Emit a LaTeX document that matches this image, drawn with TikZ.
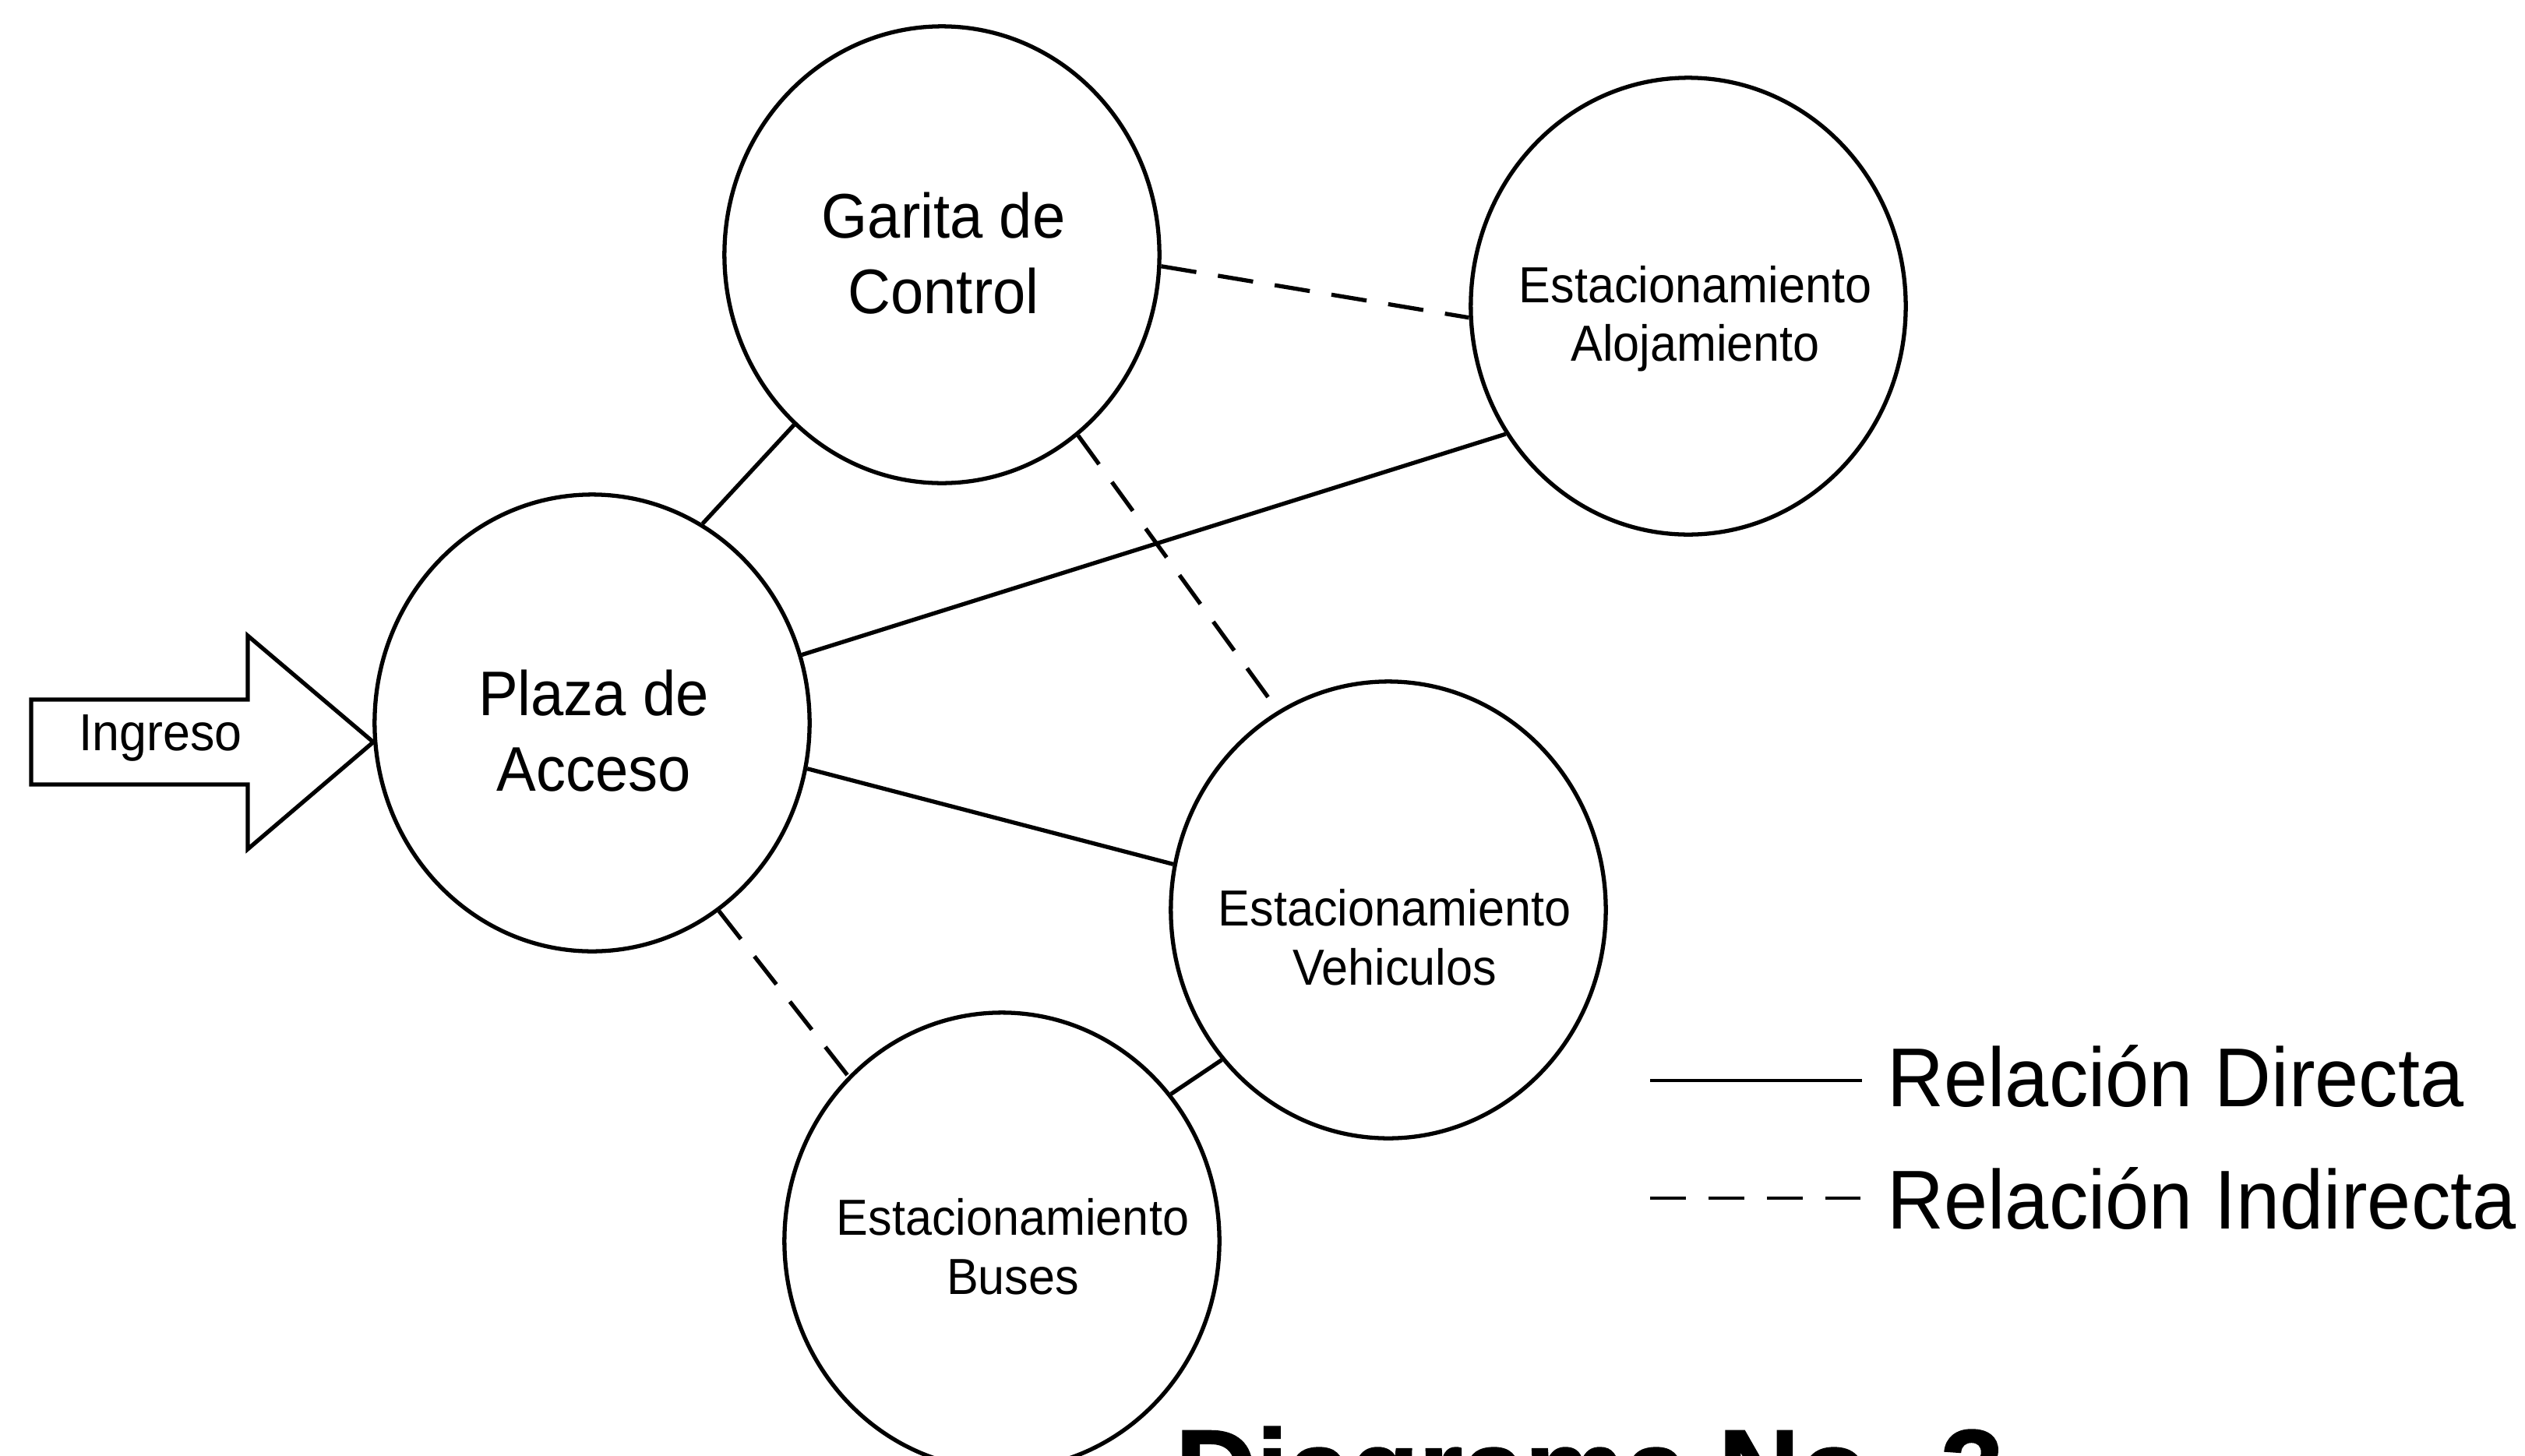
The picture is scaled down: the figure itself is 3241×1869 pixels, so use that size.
\documentclass[tikz,border=0pt]{standalone}
\usepackage{fontspec}
\setmainfont{Liberation Sans}[FakeStretch=0.94]
\newfontfamily\titlefont{Liberation Sans Bold}[FakeBold=1.5]
\usetikzlibrary{shapes.geometric}
\tikzset{
  circ/.style={ellipse, draw, line width=1.5pt, inner sep=0pt,
    minimum width=5.58cm, minimum height=5.86cm},
  bigtxt/.style={align=center, inner sep=0pt, font=\fontsize{23}{27.5}\selectfont},
  smalltxt/.style={align=center, inner sep=0pt, font=\fontsize{18.5}{21.5}\selectfont},
  direct/.style={line width=1.5pt},
  indirect/.style={line width=1.5pt, dash pattern=on 13pt off 8pt},
  legendtxt/.style={anchor=base west, inner sep=0pt, font=\fontsize{30.5}{36}\selectfont},
}
\begin{document}
\begin{tikzpicture}[x=0.01cm, y=-0.01cm]
\useasboundingbox (0,0) rectangle (3241,1869);

% circles
\node[circ] (gar) at (1209,327) {};
\node[circ] (alo) at (2167,393) {};
\node[circ] (pla) at (760,928) {};
\node[circ] (veh) at (1782,1168) {};
\node[circ] (bus) at (1286,1593) {};

% labels
\node[bigtxt] (gart) at (1211,325) {Garita de\\Control};
\node[smalltxt] (alot) at (2176,409) {Estacionamiento\\Alojamiento};
\node[bigtxt] (plat) at (762,938) {Plaza de\\Acceso};
\node[smalltxt] (veht) at (1790,1203) {Estacionamiento\\Vehiculos};
\node[smalltxt] (bust) at (1300,1600) {Estacionamiento\\Buses};

% direct relations
\draw[direct] (gar.229) -- (pla.61);
\draw[direct] (pla.18) -- (alo.215);
\draw[direct] (pla.348) -- (veh.168);
\draw[direct] (veh.222) -- (bus.41);

% indirect relations
\draw[indirect] (gar.357) -- (alo.183);
\draw[indirect] (gar.307) -- (veh.119);
\draw[indirect] (pla.304) -- (bus.133);

% entrance arrow
\coordinate (tip) at (pla.185);
\draw[line width=1.5pt, line join=miter] (40,898) -- (318,898) -- (318,816) -- (tip)
  -- (318,1090) -- (318,1007) -- (40,1007) -- cycle;
\node[anchor=base, inner sep=0pt, font=\fontsize{19}{22}\selectfont] (ing) at (206,963) {Ingreso};

% legend
\coordinate (d1) at (2118,1387);
\coordinate (d2) at (2390,1387);
\draw[line width=1.3pt] (d1) -- (d2);
\node[legendtxt] (ldir) at (2422,1420) {Relación Directa};
\coordinate (i1) at (2118,1538);
\coordinate (i2) at (2390,1538);
\draw[line width=1.3pt, dash pattern=on 13pt off 8.3pt] (i1) -- (i2);
\node[legendtxt] (lind) at (2422,1577) {Relación Indirecta};

% title (cut off at the bottom edge)
\begin{scope}
\clip (0,0) rectangle (3241,1869);
\node[anchor=base west, inner sep=0pt, font=\titlefont\fontsize{41}{48}\selectfont] (title) at (1508,1936) {Diagrama No. 3};
\end{scope}
\end{tikzpicture}
\end{document}
